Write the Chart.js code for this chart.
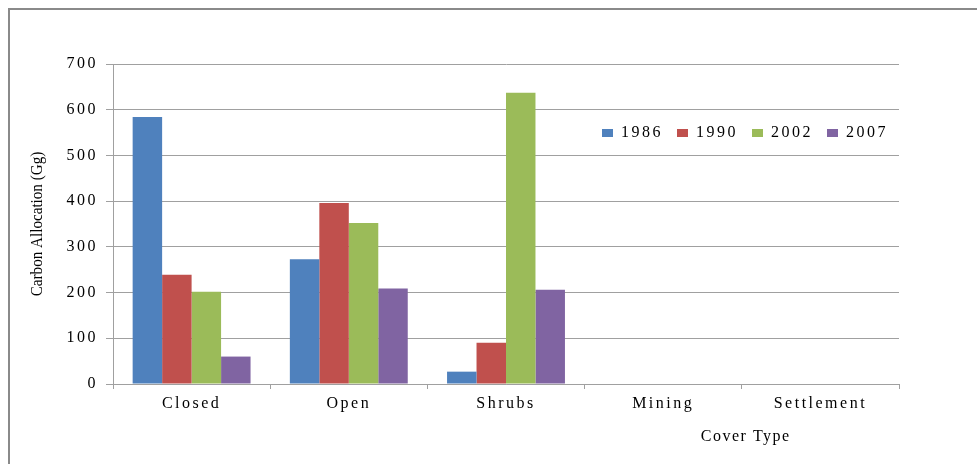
<!DOCTYPE html>
<html>
<head>
<meta charset="utf-8">
<script src="https://cdn.jsdelivr.net/npm/chart.js@4/dist/chart.umd.min.js"></script>
<style>
  html, body { margin: 0; padding: 0; background: #fff; }
  #wrap { position: relative; width: 977px; height: 464px; overflow: hidden; }
  #frame { position: absolute; left: 8px; top: 8px; width: 1000px; height: 500px;
    border-left: 2px solid #8a8a8a; border-top: 2px solid #8a8a8a; }
  canvas { position: absolute; left: 0; top: 0; }
</style>
</head>
<body>
<div id="wrap">
  <div id="frame"></div>
  <canvas id="c" width="977" height="464"></canvas>
</div>
<script>
// Carbon allocation by cover type, four survey years.

const coverTypes = ['Closed', 'Open', 'Shrubs', 'Mining', 'Settlement'];
const years = ['1986', '1990', '2002', '2007'];
const v1986 = [584, 273, 27, 0, 0];
const v1990 = [239, 396, 90, 0, 0];
const v2002 = [202, 352, 637, 0, 0];
const v2007 = [60, 209, 206, 0, 0];
const yTicks = [0, 100, 200, 300, 400, 500, 600, 700];

const colors = ['#4F81BD', '#C0504D', '#9BBB59', '#8064A2'];
const serif = "'Liberation Serif', 'Times New Roman', serif";
const SPACING = '2.5px';

// Excel-like wide lettering for ticks and legend
const spacing = {
  id: 'spacing',
  beforeUpdate(chart) { chart.ctx.letterSpacing = SPACING; },
  beforeDraw(chart) { chart.ctx.letterSpacing = SPACING; },
};

// legend takes no room in the layout, then gets parked inside the plot
const legendSpot = {
  id: 'legendSpot',
  beforeLayout(chart) {
    const lg = chart.legend;
    if (lg._parked) return;
    const fit = lg.fit.bind(lg);
    lg.fit = function () { fit(); this._realH = this.height; this.height = 0; };
    lg._parked = true;
  },
  afterLayout(chart) {
    const lg = chart.legend;
    const h = lg._realH || 0;
    lg.right = 902;
    lg.top = 131 - h / 2;
    lg.bottom = lg.top + h;
    lg.height = h;
  },
};

// axis titles drawn by hand (y title is condensed, x title sits off-centre)
const titles = {
  id: 'titles',
  afterDraw(chart) {
    const ctx = chart.ctx, a = chart.chartArea;
    ctx.save();
    ctx.fillStyle = '#000';
    ctx.textAlign = 'center';
    ctx.textBaseline = 'middle';
    ctx.letterSpacing = '0px';
    ctx.font = '17px ' + serif;
    ctx.translate(38, (a.top + a.bottom) / 2);
    ctx.rotate(-Math.PI / 2);
    ctx.scale(0.89, 1);
    ctx.fillText('Carbon Allocation (Gg)', 0, 0);
    ctx.restore();

    ctx.save();
    ctx.fillStyle = '#000';
    ctx.textAlign = 'center';
    ctx.textBaseline = 'middle';
    ctx.letterSpacing = '1.5px';
    ctx.font = '16px ' + serif;
    ctx.fillText('Cover Type', a.left + (a.right - a.left) * 0.805, 437);
    ctx.restore();
  },
};

const series = [v1986, v1990, v2002, v2007];

new Chart(document.getElementById('c'), {
  type: 'bar',
  data: {
    labels: coverTypes,
    datasets: years.map((y, i) => ({
      label: y, data: series[i], backgroundColor: colors[i],
      borderWidth: 0, categoryPercentage: 0.75, barPercentage: 1.0,
    })),
  },
  options: {
    responsive: false,
    animation: false,
    events: [],
    layout: { padding: { left: 0, right: 78, top: 64, bottom: 0 } },
    plugins: {
      tooltip: { enabled: false },
      legend: {
        position: 'top', align: 'end',
        labels: { boxWidth: 11, boxHeight: 8, padding: 14, color: '#000',
          font: { family: serif, size: 16 } },
      },
    },
    scales: {
      x: {
        afterFit: s => { s.height = 80; },
        grid: { display: true, drawOnChartArea: false, drawTicks: true, offset: true,
          tickLength: 5, color: '#a0a0a0' },
        border: { color: '#a0a0a0' },
        ticks: { color: '#000', padding: 5, font: { family: serif, size: 16 } },
      },
      y: {
        min: 0, max: 700,
        afterFit: s => { s.width = 113; },
        afterBuildTicks: s => { s.ticks = yTicks.map(v => ({ value: v })); },
        grid: { color: '#a0a0a0', tickLength: 7 },
        border: { color: '#a0a0a0' },
        ticks: { color: '#000', padding: 8, font: { family: serif, size: 16 } },
      },
    },
  },
  plugins: [spacing, legendSpot, titles],
});
</script>
</body>
</html>
